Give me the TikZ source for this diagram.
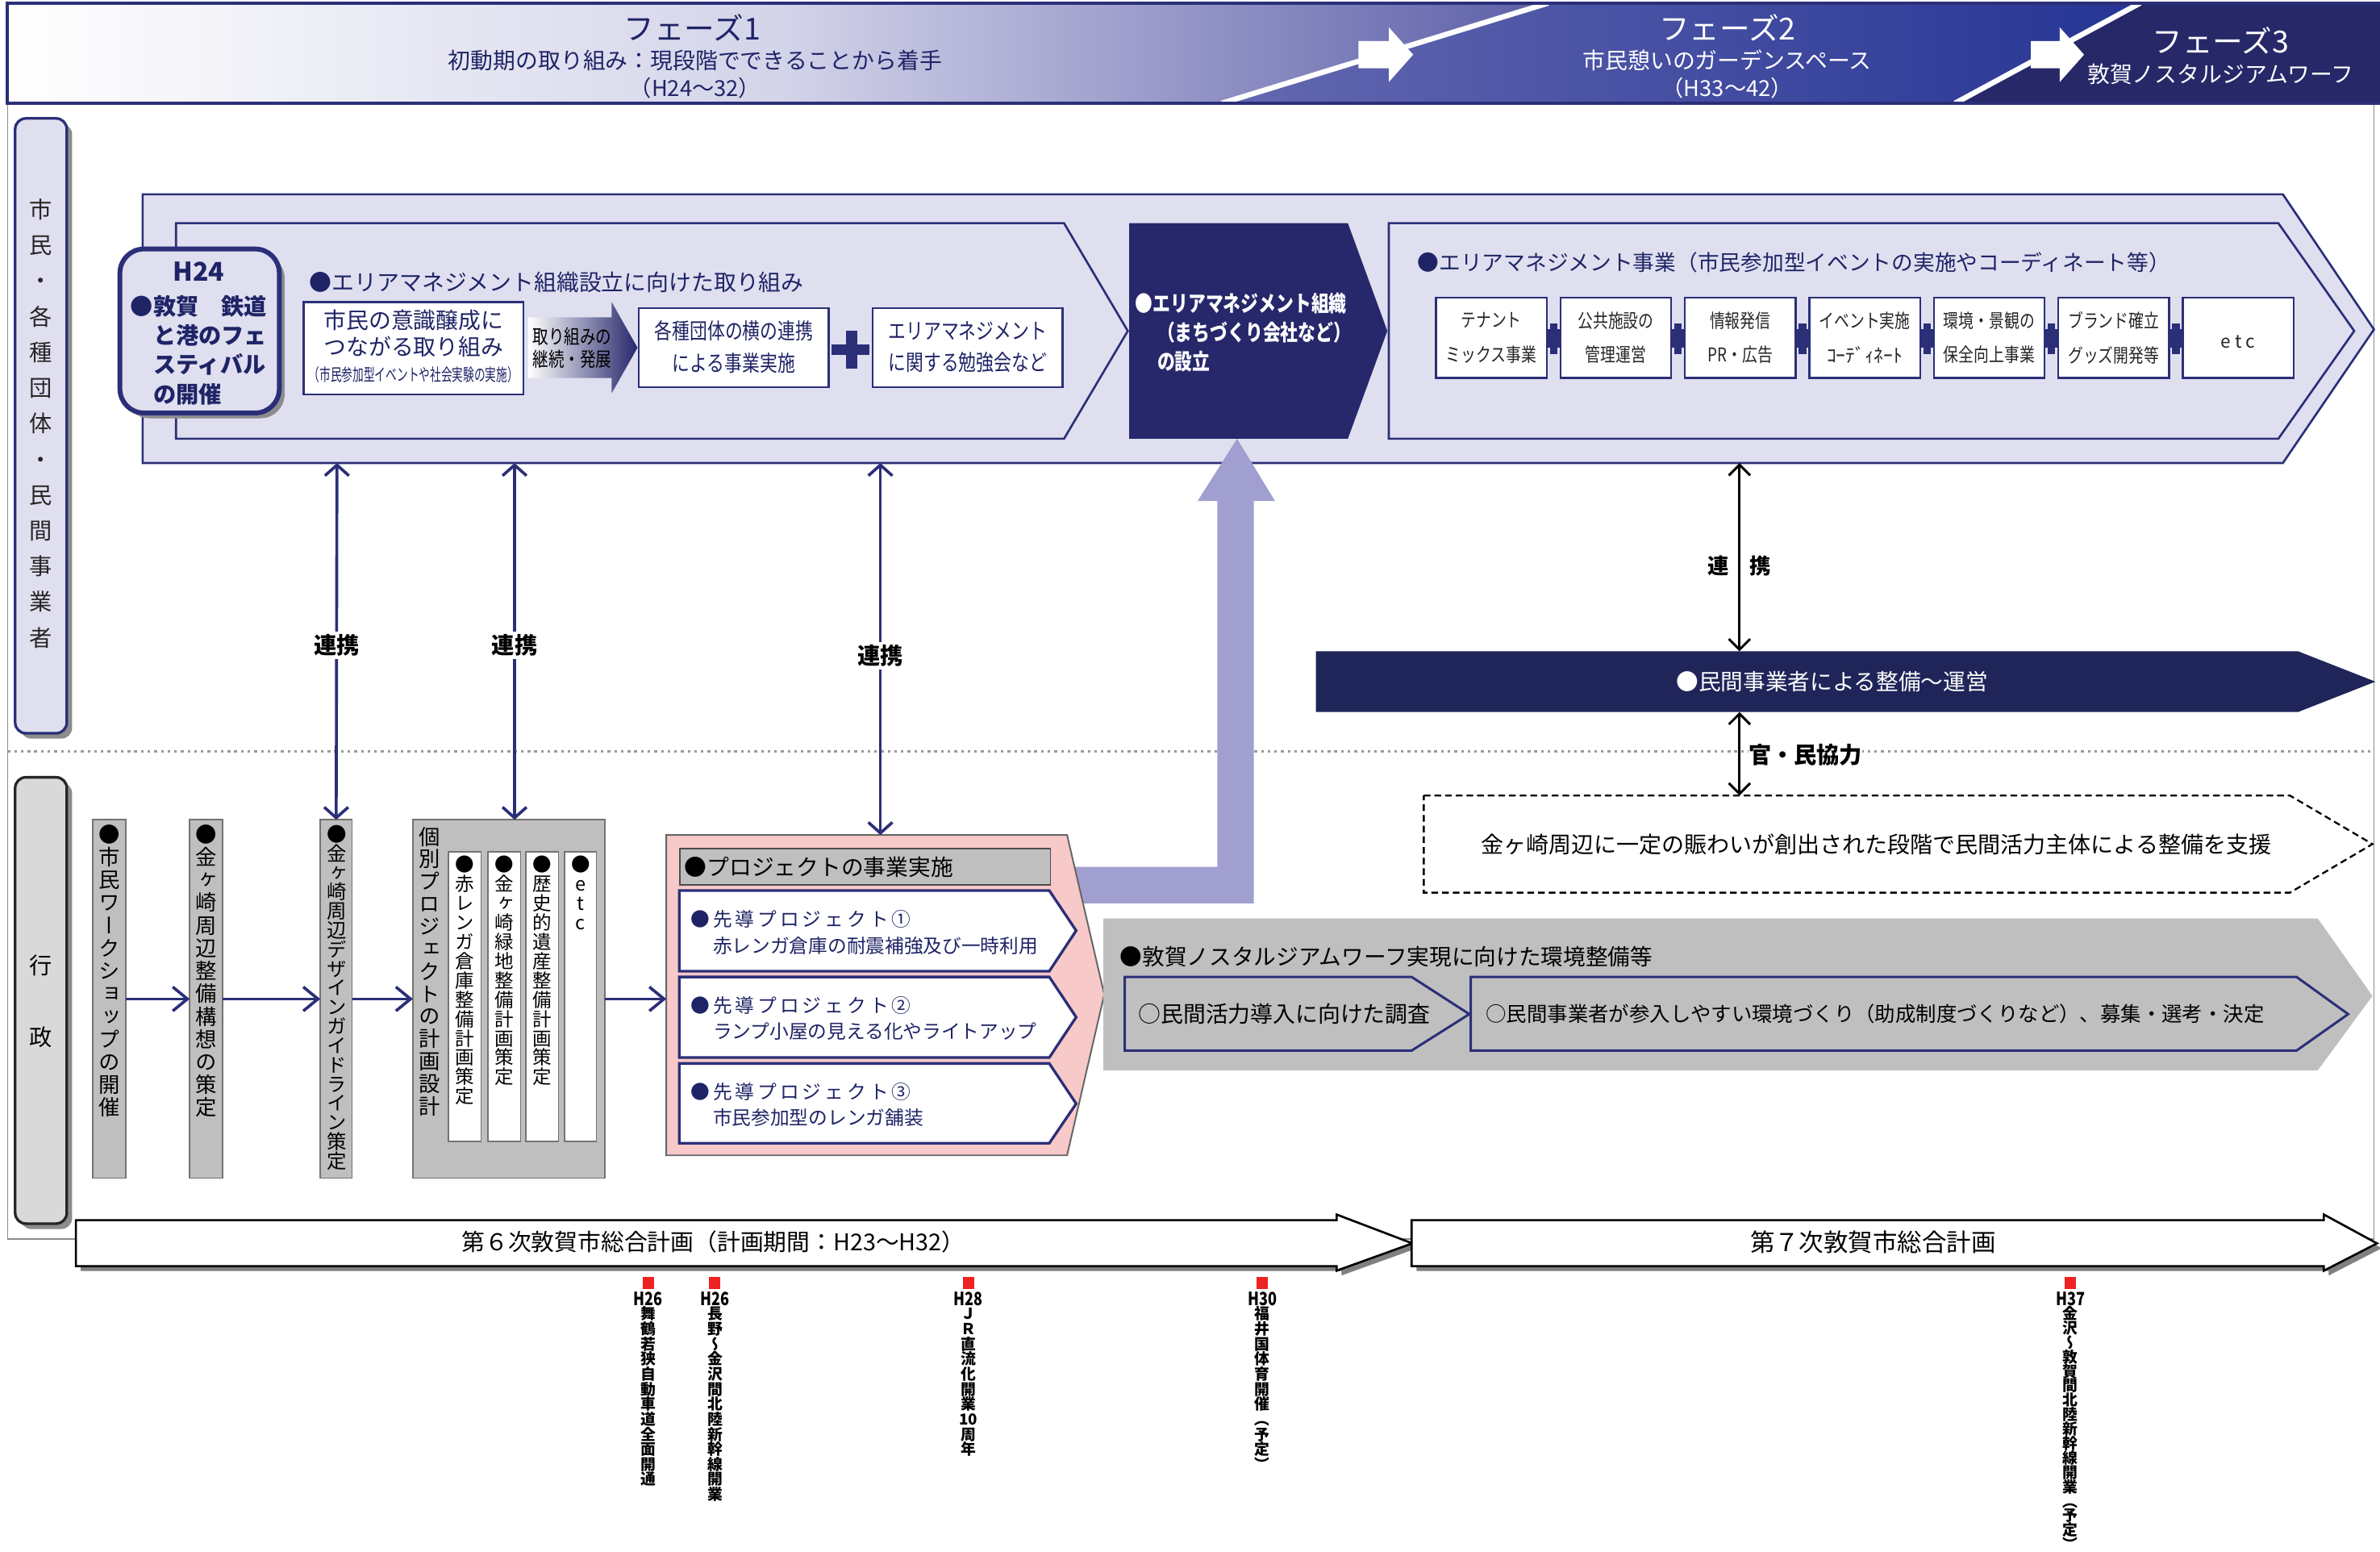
\documentclass[tikz,border=0pt]{standalone}
\usepackage{fontspec}
\setmainfont{Noto Sans CJK JP}
\newfontfamily\jp{Noto Sans CJK JP}
\newfontfamily\jpc[FakeStretch=0.8]{Noto Sans CJK JP}
\newfontfamily\jpn[FakeStretch=0.65]{Noto Sans CJK JP}
\newfontfamily\jpv[RawFeature=+vert]{Noto Sans CJK JP}
\newfontfamily\jpls[LetterSpace=17]{Noto Sans CJK JP}
\usetikzlibrary{arrows.meta,shadows,fit}

\definecolor{navy}{HTML}{2B2F78}
\definecolor{navytext}{HTML}{1F2466}
\definecolor{lav}{HTML}{DFDFF0}
\definecolor{lavarrow}{HTML}{A19FCF}
\definecolor{boxnavy}{HTML}{27286B}
\definecolor{band}{HTML}{1F2559}
\definecolor{pinkf}{HTML}{F8C9C9}
\definecolor{greyf}{HTML}{BFBFBF}
\definecolor{mred}{HTML}{EE2222}
\definecolor{h1m}{HTML}{D4D4EA}
\definecolor{h1r}{HTML}{5C5FA8}
\definecolor{h2l}{HTML}{6468B0}
\definecolor{h2r}{HTML}{263594}
\definecolor{ph3}{HTML}{262868}

\newcommand\px[2][0]{\pgfmathsetmacro\pxa{#2*0.569}\pgfmathsetmacro\pxb{((#1==0)?(#2*1.2):(#1))*0.569}\fontsize{\pxa}{\pxb}\selectfont}

\makeatletter
\newlength\vtu \setlength\vtu{0.02cm}
\newlength\vtp \newlength\vth \newlength\vtd
\def\vt@end{\relax}
\def\vt@loop#1{\ifx\vt@end#1\else\vt@cell{#1}\expandafter\vt@loop\fi}
\def\vt@cell#1{\hbox{\vrule height\vth depth\vtd width0pt\hbox to1.1em{\hss\smash{#1}\hss}}}
\newcommand\vt[2]{\setlength\vtp{#1\vtu}\setlength\vth{0.5\vtp}\addtolength\vth{0.38em}\setlength\vtd{0.5\vtp}\addtolength\vtd{-0.38em}\vbox{\offinterlineskip\vt@loop#2\vt@end}}
\makeatother

\begin{document}
\begin{tikzpicture}[x=0.02cm,y=-0.02cm,
  every node/.style={inner sep=0pt,outer sep=0pt},
  wbox/.style={draw=navy,line width=0.7pt,fill=white},
  gbox/.style={draw=black!55,line width=0.5pt,fill=greyf},
  link/.style={draw=navy,line width=1.1pt,{Straight Barb[length=4pt,width=9pt]}-{Straight Barb[length=4pt,width=9pt]}},
  flow/.style={draw=navy,line width=1.1pt,-{Straight Barb[length=5.5pt,width=9pt]}},
  blink/.style={draw=black,line width=0.9pt,{Straight Barb[length=4pt,width=8pt]}-{Straight Barb[length=4pt,width=8pt]}},
  chev/.style={fill=lav,draw=navy,line width=0.8pt},
  vnode/.style={anchor=north,font=\jpv},
  lbl/.style={font={\jp\bfseries\px{15}},fill=white,inner sep=1pt},
]
\useasboundingbox (0,0) rectangle (1568,1022);

% frame and separator
\draw[black!45,line width=0.5pt] (5,68) rectangle (1564,816);
\draw[black!40,line width=1pt,dash pattern=on 1pt off 1.5pt] (5,495) -- (1564,495);

% ===== header =====
\shade[left color=white,right color=h1r,middle color=h1m] (5,2) -- (1020,2) -- (805,68) -- (5,68) -- cycle;
\shade[left color=h2l,right color=h2r] (1020,2) -- (1410,2) -- (1288,68) -- (805,68) -- cycle;
\fill[ph3] (1410,2) -- (1568,2) -- (1568,68) -- (1288,68) -- cycle;
\draw[white,line width=2pt] (805,68) -- (1020,2);
\draw[white,line width=2pt] (1288,68) -- (1410,2);
\fill[white] (895,27) -- (915,27) -- (915,18) -- (931,36) -- (915,54) -- (915,45) -- (895,45) -- cycle;
\fill[white] (1338,27) -- (1357,27) -- (1357,18) -- (1373,36) -- (1357,54) -- (1357,45) -- (1338,45) -- cycle;
\draw[navy,line width=1.2pt] (1568,2) -- (5,2) -- (5,68) -- (1568,68);

\node[font={\jp\px{20}},text=navytext] (ph1) at (456,18) {フェーズ1};
\node[font={\jp\px{14.8}},text=navytext] (ph1s) at (458,40) {初動期の取り組み：現段階でできることから着手};
\node[font={\jp\px{14.5}},text=navytext] (ph1y) at (458,58) {（H24〜32）};
\node[font={\jp\px{20}},text=white] (ph2) at (1138,18) {フェーズ2};
\node[font={\jp\px{14.8}},text=white] (ph2s) at (1138,40) {市民憩いのガーデンスペース};
\node[font={\jp\px{14.5}},text=white] (ph2y) at (1138,58) {（H33〜42）};
\node[font={\jp\px{20}},text=white] (ph3) at (1463,27) {フェーズ3};
\node[font={\jp\px{14.8}},text=white] (ph3s) at (1463,49) {敦賀ノスタルジアムワーフ};

% ===== left labels =====
\node[fit={(10,78)(44,483)},rounded corners=4pt,draw=navy,line width=1pt,fill=lav,
      drop shadow={shadow xshift=2pt,shadow yshift=-2pt,fill=black!45,opacity=1}] (cit) {};
\node[vnode,text=black!85] (citt) at (27,126.25) {\px{15}\vt{23.5}{市民・各種団体・民間事業者}};
\node[fit={(10,512)(44,806)},rounded corners=4pt,draw=black!85,line width=1pt,fill=black!15,
      drop shadow={shadow xshift=2pt,shadow yshift=-2pt,fill=black!45,opacity=1}] (gov) {};
\node[vnode,text=black] (govt) at (27,612.5) {\px{15}\vt{47}{行政}};

% ===== upper chevrons =====
\filldraw[chev] (94,128) -- (1504,128) -- (1564,217) -- (1504,305) -- (94,305) -- cycle;
\coordinate (up1) at (222,305);
\coordinate (up2) at (339,305);
\coordinate (up3) at (580,305);
\coordinate (up4) at (1146,305);
\filldraw[chev] (116,147) -- (701,147) -- (743,218) -- (701,289) -- (116,289) -- cycle;
\fill[boxnavy] (744,147) -- (888,147) -- (914,218) -- (888,289) -- (744,289) -- cycle;
\filldraw[chev] (915,147) -- (1501,147) -- (1551,218) -- (1501,289) -- (915,289) -- cycle;

% H24 box
\node[fit={(79,164)(184,272)},rounded corners=9pt,draw=navy,line width=1.8pt,fill=lav,
      drop shadow={shadow xshift=2pt,shadow yshift=-2pt,fill=black!45,opacity=1}] (h24) {};
\node[font={\jp\bfseries\px{17}},text=navytext] (h24t) at (131,179) {H24};
\node[anchor=west,align=left,font={\jp\bfseries\px[19.3]{15}},text=navytext] (h24b) at (86,230.6)
  {●敦賀　鉄道\\\hspace*{1em}と港のフェ\\\hspace*{1em}スティバル\\\hspace*{1em}の開催};

% chevron 1 contents
\node[anchor=west,font={\jp\px{14.8}},text=navytext] (amh) at (204,186) {●エリアマネジメント組織設立に向けた取り組み};
\node[wbox,fit={(200,199)(345,260)}] (b1) {};
\node[font={\jp\px[17.5]{14.8}},align=center,text=navytext] (b1t) at (272.5,219.75) {市民の意識醸成に\\つながる取り組み};
\node[font={\jpn\px{11.2}},text=navytext] (b1s) at (272.5,247) {（市民参加型イベントや社会実験の実施）};
\shade[left color=white,right color=boxnavy] (348,209) -- (403,209) -- (403,199) -- (420,229) -- (403,259) -- (403,249) -- (348,249) -- cycle;
\node[font={\jpc\px[15]{13}},align=center,text=black] (cont) at (377,229) {取り組みの\\継続・発展};
\node[wbox,fit={(421,203)(546,255)}] (b2) {};
\node[font={\jpc\px[21]{14.5}},align=center,text=navytext] (b2t) at (483.5,228.5) {各種団体の横の連携\\による事業実施};
\fill[navy] (557.5,218) rectangle (565,243);
\fill[navy] (548,227) rectangle (573,234);
\node[wbox,fit={(575,203)(700,255)}] (b3) {};
\node[font={\jpc\px[21]{14.5}},align=center,text=navytext] (b3t) at (637.5,228.5) {エリアマネジメント\\に関する勉強会など};

% navy box text
\node[anchor=west,align=left,font={\jpc\bfseries\px[19]{14.5}},text=white] (amo) at (748,219)
  {●エリアマネジメント組織\\\hspace*{1em}（まちづくり会社など）\\\hspace*{1em}の設立};

% chevron 2 contents
\node[anchor=west,font={\jp\px{14.2}},text=navytext] (amjh) at (934,173) {●エリアマネジメント事業（市民参加型イベントの実施やコーディネート等）};
\foreach \i in {0,...,5} {
  \pgfmathsetmacro\xc{1023.5+82*\i}
  \fill[navy] (\xc-2.5,213) rectangle (\xc+2.5,233);
  \fill[navy] (\xc-7,217) rectangle (\xc+7,229);
}
\foreach \i/\a/\b in {0/テナント/ミックス事業,1/公共施設の/管理運営,2/情報発信/PR・広告,3/イベント実施/{{\jp ｺｰﾃﾞｨﾈｰﾄ}},4/環境・景観の/保全向上事業,5/ブランド確立/グッズ開発等} {
  \pgfmathsetmacro\xl{946+82*\i}
  \pgfmathsetmacro\xr{\xl+73}
  \node[wbox,fit={(\xl,196)(\xr,249)}] (s\i) {};
  \node[font={\jpc\px[22.5]{12.5}},align=center,text=black!85] (st\i) at (s\i) {\a\\\b};
}
\node[wbox,fit={(1438,196)(1511,249)}] (s6) {};
\node[font={\jp\px{12}},text=black!85] (st6) at (1474.5,225) {e t c};

% lavender arrow (project -> area management org.)
\fill[lavarrow] (708,571) -- (802,571) -- (802,330) -- (789,330) -- (815,289) -- (840,330) -- (826,330) -- (826,595) -- (708,595) -- cycle;

% ===== lower: administration =====
\node[gbox,fit={(61,540)(83,776)}] (gA) {};
\node[gbox,fit={(125,540)(146.5,776)}] (gB) {};
\node[gbox,fit={(211,540)(232,776)}] (gC) {};
\node[gbox,fit={(272,540)(398.5,776)}] (gD) {};
\node[gbox,fill=white,fit={(295.5,561)(317,752)}] (d1) {};
\node[gbox,fill=white,fit={(321.5,561)(343,752)}] (d2) {};
\node[gbox,fill=white,fit={(346.5,561)(368,752)}] (d3) {};
\node[gbox,fill=white,fit={(372,561)(393,752)}] (d4) {};
\node[vnode] (gAt) at (72,542) {\px{14}\vt{15}{●市民ワークショップの開催}};
\node[vnode] (gBt) at (136,542) {\px{14}\vt{15}{●金ヶ崎周辺整備構想の策定}};
\node[vnode] (gCt) at (222,543.2) {\px{13}\vt{12.65}{●金ヶ崎周辺デザインガイドライン策定}};
\node[vnode] (gDt) at (283,543.6) {\px{14}\vt{14.8}{個別プロジェクトの計画設計}};
\node[vnode] (d1t) at (306.25,563.25) {\px{12.5}\vt{12.7}{●赤レンガ倉庫整備計画策定}};
\node[vnode] (d2t) at (332.25,563.25) {\px{12.5}\vt{12.7}{●金ヶ崎緑地整備計画策定}};
\node[vnode] (d3t) at (357.25,563.25) {\px{12.5}\vt{12.7}{●歴史的遺産整備計画策定}};
\node[vnode] (d4t) at (382.5,563.25) {\px{12.5}\vt{12.7}{●etc}};

% pink project box
\filldraw[fill=pinkf,draw=black!60,line width=0.6pt] (439,550) -- (703,550) -- (727.5,655) -- (703,761) -- (439,761) -- cycle;
\coordinate (pinkN) at (580,550);
\coordinate (pinkW) at (439,658);
\node[gbox,draw=black!70,fit={(448,559)(692,583)}] (ph) {};
\node[anchor=west,font={\jp\px{14.75}},text=black] (pht) at (451,571) {●プロジェクトの事業実施};
\filldraw[fill=white,draw=navy,line width=1pt] (447.5,586.6) -- (691.3,586.6) -- (709,613) -- (691.3,639.7) -- (447.5,639.7) -- cycle;
\filldraw[fill=white,draw=navy,line width=1pt] (447.5,643.5) -- (691.3,643.5) -- (709,670) -- (691.3,696.6) -- (447.5,696.6) -- cycle;
\filldraw[fill=white,draw=navy,line width=1pt] (447.5,700.5) -- (691.3,700.5) -- (709,727) -- (691.3,753) -- (447.5,753) -- cycle;
\node[anchor=west,align=left,font={\jp\px[17.1]{12.6}},text=navytext] (p1t) at (455,614.25)
  {{\jpls ●先導プロジェクト①}\\\hspace*{1.17em}赤レンガ倉庫の耐震補強及び一時利用};
\node[anchor=west,align=left,font={\jp\px[17.1]{12.6}},text=navytext] (p2t) at (455,670.7)
  {{\jpls ●先導プロジェクト②}\\\hspace*{1.17em}ランプ小屋の見える化やライトアップ};
\node[anchor=west,align=left,font={\jp\px[17.1]{12.6}},text=navytext] (p3t) at (455,727.5)
  {{\jpls ●先導プロジェクト③}\\\hspace*{1.17em}市民参加型のレンガ舗装};

% flow arrows
\draw[flow] (gA.east) -- (gB.west);
\draw[flow] (gB.east) -- (gC.west);
\draw[flow] (gC.east) -- (gD.west);
\draw[flow] (gD.east) -- (pinkW);

% link arrows
\draw[link] (up1) -- (gC.north);
\draw[link] (up2) -- (gD.north -| up2);
\draw[link] (up3) -- (pinkN);
\node[lbl] (l1) at (222,425) {連携};
\node[lbl] (l2) at (339,425) {連携};
\node[lbl] (l3) at (580,432) {連携};

% ===== private sector =====
\fill[band] (867,429) -- (1514,429) -- (1565,449) -- (1514,469) -- (867,469) -- cycle;
\coordinate (bandN) at (1146,429);
\coordinate (bandS) at (1146,469);
\node[font={\jp\px{14.7}},text=white] (bandt) at (1207,449) {●民間事業者による整備〜運営};
\filldraw[fill=white,draw=black,line width=0.7pt,dash pattern=on 2.5pt off 1.5pt] (938,524) -- (1508.6,524) -- (1563,556) -- (1508.6,588) -- (938,588) -- cycle;
\coordinate (dashN) at (1146,524);
\node[font={\jp\px{14.9}},text=black] (dasht) at (1236,556) {金ヶ崎周辺に一定の賑わいが創出された段階で民間活力主体による整備を支援};
\draw[blink] (up4) -- (bandN);
\draw[blink] (bandS) -- (dashN);
\node[font={\jp\bfseries\px{14}},text=black] (l4) at (1146,373) {連　携};
\node[anchor=west,font={\jp\bfseries\px{15}},fill=white,text=black] (l5) at (1152,497) {官・民協力};

% grey environment chevron
\fill[greyf] (727,605) -- (1527,605) -- (1563,656) -- (1527,705) -- (727,705) -- cycle;
\node[anchor=west,font={\jp\px{14.7}},text=black] (envt) at (738,630) {●敦賀ノスタルジアムワーフ実現に向けた環境整備等};
\filldraw[fill=greyf,draw=navy,line width=0.9pt] (741,643.5) -- (930,643.5) -- (968,668) -- (930,692) -- (741,692) -- cycle;
\filldraw[fill=greyf,draw=navy,line width=0.9pt] (969,643.5) -- (1513,643.5) -- (1547,668) -- (1513,692) -- (969,692) -- cycle;
\node[anchor=west,font={\jp\px{14.8}},text=black] (env1) at (750,668) {○民間活力導入に向けた調査};
\node[anchor=west,font={\jp\px{13.5}},text=black] (env2) at (979,668) {○民間事業者が参入しやすい環境づくり（助成制度づくりなど）、募集・選考・決定};

% ===== timeline =====
\filldraw[fill=white,draw=black,line width=0.8pt,drop shadow={shadow xshift=1.8pt,shadow yshift=-1.8pt,fill=black!50,opacity=1}]
  (50,803.7) -- (880.6,803.7) -- (880.6,800) -- (930.5,819) -- (880.6,837) -- (880.6,834) -- (50,834) -- cycle;
\filldraw[fill=white,draw=black,line width=0.8pt,drop shadow={shadow xshift=1.8pt,shadow yshift=-1.8pt,fill=black!50,opacity=1}]
  (930,803.7) -- (1531,803.7) -- (1531,800) -- (1566,819) -- (1531,837) -- (1531,834) -- (930,834) -- cycle;
\node[font={\jp\px{15.3}},text=black] (p6) at (470,818) {第６次敦賀市総合計画（計画期間：H23〜H32）};
\node[font={\jp\px{16.2}},text=black] (p7) at (1234,818) {第７次敦賀市総合計画};

\node[fill=mred,minimum width=0.15cm,minimum height=0.16cm] (m1) at (427,845) {};
\node[fill=mred,minimum width=0.15cm,minimum height=0.16cm] (m2) at (471,845) {};
\node[fill=mred,minimum width=0.15cm,minimum height=0.16cm] (m3) at (638,845) {};
\node[fill=mred,minimum width=0.15cm,minimum height=0.16cm] (m4) at (831.6,845) {};
\node[fill=mred,minimum width=0.15cm,minimum height=0.16cm] (m5) at (1364,845) {};
\node[font={\jpc\bfseries\px{12}}] (m1h) at (427,855.5) {H26};
\node[font={\jpc\bfseries\px{12}}] (m2h) at (471,855.5) {H26};
\node[font={\jpc\bfseries\px{12}}] (m3h) at (638,855.5) {H28};
\node[font={\jpc\bfseries\px{12}}] (m4h) at (831.6,855.5) {H30};
\node[font={\jpc\bfseries\px{12}}] (m5h) at (1364,855.5) {H37};
\node[vnode,font=\jpv\bfseries] (m1t) at (427,860.5) {\px{10}\vt{9.9}{舞鶴若狭自動車道全面開通}};
\node[vnode,font=\jpv\bfseries] (m2t) at (471,860.5) {\px{10}\vt{9.9}{長野〜金沢間北陸新幹線開業}};
\node[vnode,font=\jpv\bfseries] (m3t) at (638,860.5) {\px{10}\vt{9.9}{ＪＲ直流化開業{10}周年}};
\node[vnode,font=\jpv\bfseries] (m4t) at (831.6,860.5) {\px{10}\vt{9.9}{福井国体育開催（予定）}};
\node[vnode,font=\jpv\bfseries] (m5t) at (1364,860.5) {\px{10}\vt{9.5}{金沢〜敦賀間北陸新幹線開業（予定）}};
\end{tikzpicture}
\end{document}
